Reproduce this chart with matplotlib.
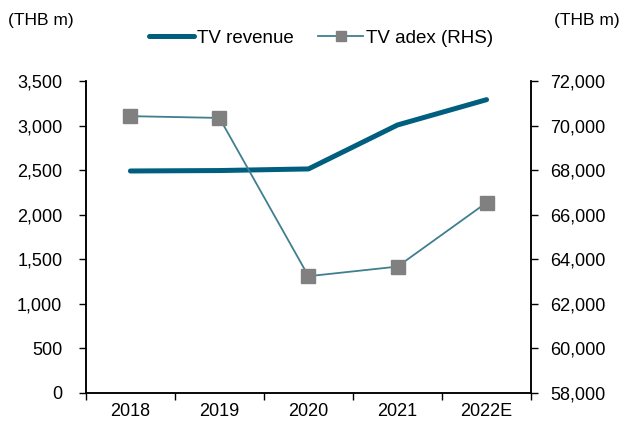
import matplotlib.pyplot as plt
from matplotlib.ticker import FuncFormatter, FixedLocator

plt.rcParams['font.family'] = ['Liberation Sans', 'DejaVu Sans']

years = ["2018", "2019", "2020", "2021", "2022E"]
tv_revenue = [2490, 2495, 2513, 3006, 3290]
tv_adex = [70420, 70340, 63240, 63670, 66540]

REV_COLOR = "#005f7f"
ADEX_COLOR = "#3f7f8f"
MARKER_COLOR = "#808080"
FS = 13


def thousands(v, _):
    return f"{v:,.0f}"


def main():
    fig = plt.figure(figsize=(6.27, 4.26), dpi=100)
    ax = fig.add_axes([0.137, 0.0775, 0.71, 0.7325])
    ax2 = ax.twinx()

    x = list(range(len(years)))
    rev_line, = ax.plot(x, tv_revenue, color=REV_COLOR, lw=3.6,
                        solid_capstyle="round", label="TV revenue")
    adex_line, = ax2.plot(x, tv_adex, color=ADEX_COLOR, lw=1.3,
                          marker="s", markersize=10.5, markerfacecolor=MARKER_COLOR,
                          markeredgecolor=MARKER_COLOR, label="TV adex (RHS)")

    ax.set_xlim(-0.5, len(years) - 0.5)
    ax.set_ylim(0, 3500)
    ax2.set_ylim(58000, 72000)
    ax.set_yticks(range(0, 3501, 500))
    ax2.set_yticks(range(58000, 72001, 2000))
    ax.yaxis.set_major_formatter(FuncFormatter(thousands))
    ax2.yaxis.set_major_formatter(FuncFormatter(thousands))

    # ticks on category boundaries, labels at centres
    ax.xaxis.set_major_locator(FixedLocator([i - 0.5 for i in range(len(years) + 1)]))
    ax.xaxis.set_minor_locator(FixedLocator(x))
    ax.set_xticklabels([], minor=False)
    ax.set_xticklabels(years, minor=True)
    ax.tick_params(axis="x", which="major", direction="out", length=5, width=1)
    ax.tick_params(axis="x", which="minor", length=0, pad=7, labelsize=FS)
    ax.tick_params(axis="y", direction="out", length=5, width=1, pad=12, labelsize=FS)
    ax2.tick_params(axis="y", direction="out", length=5, width=1, pad=9, labelsize=FS)

    for a in (ax, ax2):
        a.spines["top"].set_visible(False)
        for s in ("left", "right", "bottom"):
            a.spines[s].set_linewidth(1.1)

    fig.text(0.013, 0.953, "(THB m)", fontsize=12.5, ha="left", va="center")
    fig.text(0.988, 0.953, "(THB m)", fontsize=12.5, ha="right", va="center")

    fig.legend(handles=[rev_line, adex_line], loc="center", ncol=2,
               bbox_to_anchor=(0.512, 0.91), frameon=False, fontsize=13.5,
               handlelength=2.4, handletextpad=0.15, columnspacing=1.3,
               markerscale=0.7)

    fig.savefig("out.png", dpi=100)


if __name__ == "__main__":
    main()
